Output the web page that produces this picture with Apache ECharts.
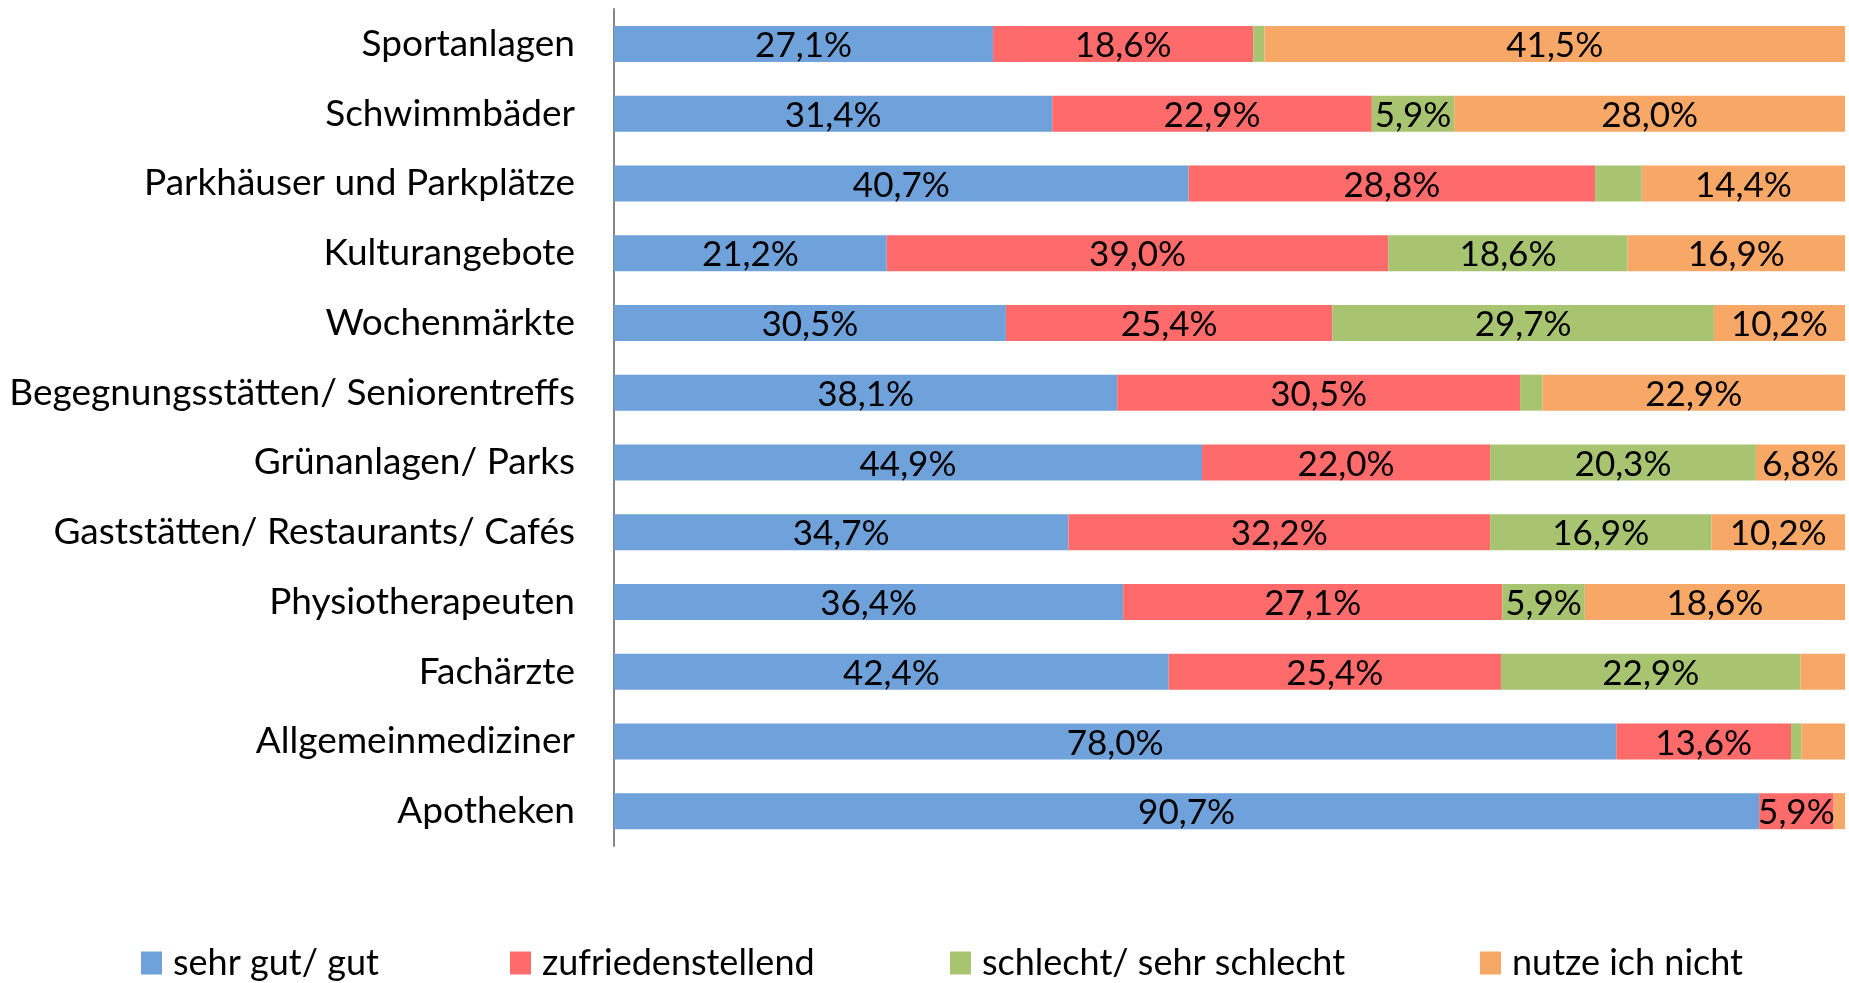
<!DOCTYPE html>
<html>
<head>
<meta charset="utf-8">
<script src="https://cdn.jsdelivr.net/npm/echarts@6/dist/echarts.min.js"></script>
<style>
  html, body { margin: 0; padding: 0; background: #fff; }
  #main { width: 1849px; height: 983px; }
</style>
</head>
<body>
<div id="main"></div>
<script>
// categories, listed top to bottom as in the picture
var categories = ['Sportanlagen', 'Schwimmbäder', 'Parkhäuser und Parkplätze', 'Kulturangebote',
  'Wochenmärkte', 'Begegnungsstätten/ Seniorentreffs', 'Grünanlagen/ Parks',
  'Gaststätten/ Restaurants/ Cafés', 'Physiotherapeuten', 'Fachärzte',
  'Allgemeinmediziner', 'Apotheken'];

var seriesNames = ['sehr gut/ gut', 'zufriedenstellend', 'schlecht/ sehr schlecht', 'nutze ich nicht'];

// raw percentages (answers without "keine Angabe", so rows don't sum to 100)
var sehrGut     = [27.1, 31.4, 40.7, 21.2, 30.5, 38.1, 44.9, 34.7, 36.4, 42.4, 78.0, 90.7];
var zufrieden   = [18.6, 22.9, 28.8, 39.0, 25.4, 30.5, 22.0, 32.2, 27.1, 25.4, 13.6, 5.9];
var schlecht    = [0.8, 5.9, 3.3, 18.6, 29.7, 1.7, 20.3, 16.9, 5.9, 22.9, 0.8, 0];
var nutzeNicht  = [41.5, 28.0, 14.4, 16.9, 10.2, 22.9, 6.8, 10.2, 18.6, 3.4, 3.4, 0.9];

var colors = ['#6FA1DB', '#FF6B6B', '#A8C470', '#F7A867'];

var raw = [sehrGut, zufrieden, schlecht, nutzeNicht];
var rowSum = categories.map(function (c, i) {
  return raw.reduce(function (s, arr) { return s + arr[i]; }, 0);
});

var font = 'Lato, "Open Sans", sans-serif';

var series = raw.map(function (arr, k) {
  return {
    name: seriesNames[k],
    type: 'bar',
    stack: 'total',
    barWidth: 36,
    itemStyle: { color: colors[k] },
    label: {
      show: true,
      position: 'inside',
      color: '#000',
      fontFamily: font,
      fontSize: 35,
      offset: [0, 2],
      formatter: function (p) {
        var v = arr[p.dataIndex];
        return v >= 5 ? v.toFixed(1).replace('.', ',') + '%' : '';
      }
    },
    data: arr.map(function (v, i) { return v / rowSum[i] * 100; })
  };
});

// one legend per item, spread like the original
var legendLeft = [141, 510, 950, 1480];
var legends = seriesNames.map(function (n, k) {
  return {
    data: [n],
    left: legendLeft[k],
    top: 945,
    padding: 0,
    icon: 'rect',
    itemWidth: 21,
    itemHeight: 23,
    itemGap: 0,
    selectedMode: false,
    textStyle: { fontFamily: font, fontSize: 36, color: '#000', padding: [0, 0, 0, 6] }
  };
});

var myChart = echarts.init(document.getElementById('main'));
var option = {
  animation: false,
  color: colors,
  legend: legends,
  grid: { left: 614, right: 4, top: 9, bottom: 137, containLabel: false },
  xAxis: {
    type: 'value',
    min: 0,
    max: 100,
    show: false
  },
  yAxis: {
    type: 'category',
    inverse: true,
    data: categories,
    axisLine: { lineStyle: { color: '#868686', width: 2 } },
    axisTick: { show: false },
    axisLabel: { color: '#000', fontFamily: font, fontSize: 37, margin: 39 }
  },
  series: series
};
myChart.setOption(option);
window.onresize = myChart.resize;
</script>
</body>
</html>
